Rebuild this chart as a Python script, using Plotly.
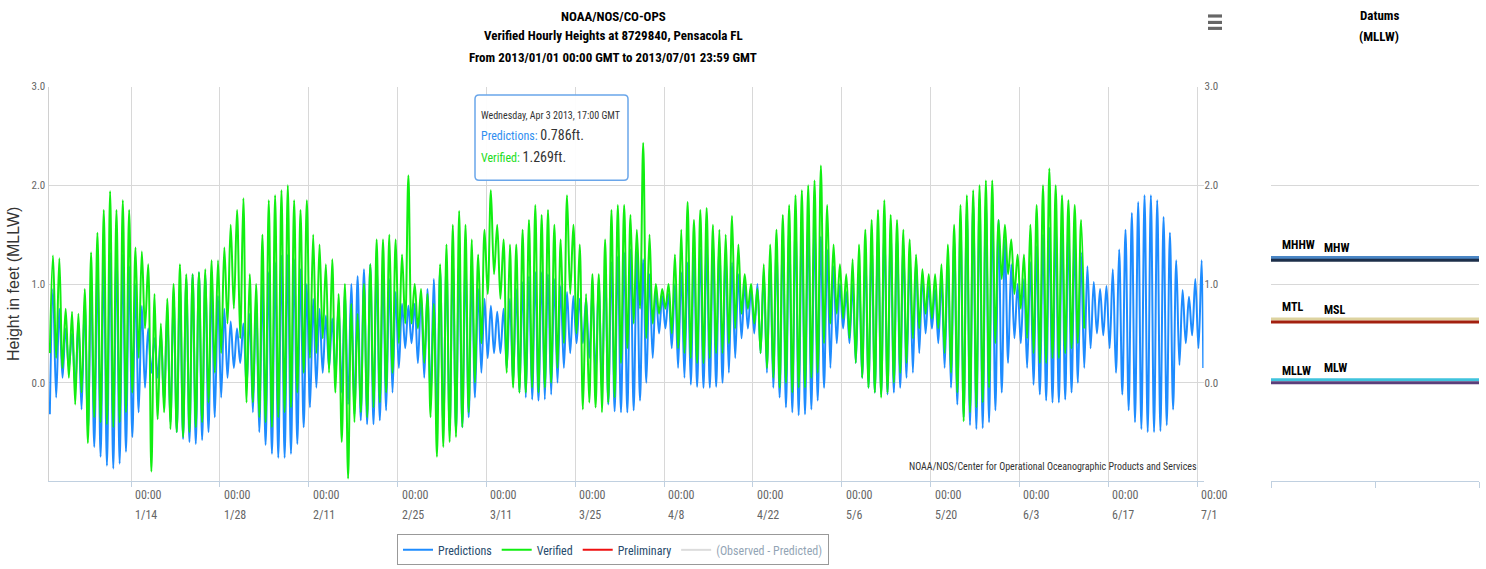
import pandas as pd
import plotly.graph_objects as go

# ---------------------------------------------------------------------------
# Daily tide extremes (feet above MLLW), Pensacola FL, 2013-01-01 .. 2013-07-01
# ---------------------------------------------------------------------------
START = pd.Timestamp("2013-01-01")
LOW_HOUR, HIGH_HOUR = 5, 17

pred_low = [
    -0.32, -0.15, 0.05, 0.15, -0.05, -0.27, -0.50, -0.65, -0.75, -0.84,
    -0.87, -0.82, -0.70, -0.55, -0.30, -0.05, 0.10, 0.05, -0.20, -0.40,
    -0.50, -0.57, -0.60, -0.62, -0.58, -0.50, -0.35, -0.15, 0.05, 0.15,
    0.20, -0.05, -0.30, -0.50, -0.63, -0.72, -0.76, -0.76, -0.72, -0.62,
    -0.45, -0.25, -0.05, 0.10, 0.15, 0.05, -0.10, -0.22, -0.32, -0.38,
    -0.42, -0.42, -0.38, -0.28, -0.10, 0.15, 0.35, 0.40, 0.20, 0.05,
    -0.20, -0.35, -0.45, -0.49, -0.50, -0.45, -0.35, -0.15, 0.10, 0.25,
    0.30, 0.30, 0.15, 0.00, -0.10, -0.15, -0.17, -0.18, -0.17, -0.12,
    0.00, 0.15, 0.30, 0.40, 0.40, 0.25, 0.05, -0.10, -0.22, -0.29,
    -0.30, -0.30, -0.28, -0.18, 0.00, 0.25, 0.50, 0.55, 0.35, 0.15,
    0.05, -0.02, -0.04, -0.05, -0.05, -0.04, 0.00, 0.10, 0.25, 0.45,
    0.55, 0.50, 0.30, 0.10, -0.05, -0.15, -0.25, -0.30, -0.33, -0.32,
    -0.27, -0.18, -0.05, 0.15, 0.40, 0.55, 0.40, 0.20, 0.05, -0.05,
    -0.10, -0.12, -0.12, -0.10, -0.05, 0.05, 0.10, 0.30, 0.50, 0.55,
    0.40, 0.15, -0.05, -0.22, -0.35, -0.43, -0.47, -0.46, -0.40, -0.28,
    -0.10, 0.20, 0.45, 0.40, 0.15, -0.02, -0.12, -0.18, -0.20, -0.20,
    -0.17, -0.10, 0.00, 0.15, 0.35, 0.50, 0.48, 0.35, 0.10, -0.12,
    -0.28, -0.40, -0.47, -0.50, -0.50, -0.49, -0.43, -0.27, 0.18, 0.40,
    0.48, 0.35,
]
pred_high = [
    0.95, 0.75, 0.55, 0.50, 0.61, 0.82, 1.02, 1.15, 1.25, 1.32,
    1.35, 1.30, 1.18, 1.00, 0.78, 0.55, 0.45, 0.50, 0.72, 0.88,
    0.98, 1.05, 1.10, 1.12, 1.09, 1.00, 0.88, 0.75, 0.62, 0.55,
    0.60, 0.70, 0.85, 1.00, 1.12, 1.22, 1.29, 1.30, 1.25, 1.15,
    1.00, 0.85, 0.75, 0.68, 0.65, 0.80, 0.93, 1.00, 1.08, 1.15,
    1.20, 1.20, 1.15, 1.05, 0.92, 0.80, 0.78, 0.80, 0.90, 0.95,
    1.05, 1.15, 1.22, 1.25, 1.25, 1.20, 1.10, 0.95, 0.85, 0.78,
    0.72, 0.75, 0.85, 0.95, 1.02, 1.08, 1.12, 1.12, 1.10, 1.05,
    0.98, 0.92, 0.88, 0.85, 0.85, 0.95, 1.05, 1.15, 1.22, 1.28,
    1.32, 1.35, 1.33, 1.25, 1.10, 0.95, 0.88, 0.90, 1.00, 1.12,
    1.22, 1.30, 1.35, 1.39, 1.40, 1.38, 1.32, 1.22, 1.10, 1.00,
    0.95, 1.00, 1.12, 1.25, 1.38, 1.48, 1.57, 1.62, 1.65, 1.64,
    1.58, 1.48, 1.35, 1.18, 1.00, 0.92, 1.00, 1.15, 1.28, 1.40,
    1.48, 1.52, 1.52, 1.48, 1.40, 1.30, 1.25, 1.10, 0.98, 0.95,
    1.05, 1.25, 1.45, 1.62, 1.75, 1.83, 1.87, 1.85, 1.78, 1.65,
    1.45, 1.20, 1.00, 1.05, 1.22, 1.38, 1.50, 1.57, 1.60, 1.60,
    1.55, 1.45, 1.32, 1.18, 1.02, 0.95, 0.98, 1.15, 1.35, 1.55,
    1.72, 1.83, 1.90, 1.90, 1.85, 1.68, 1.52, 1.24, 0.94, 0.87,
    1.05, 1.24,
]
pred_last = 0.15  # reading at 2013-07-01 23:00

ver_low = [
    0.30, 0.25, 0.15, 0.05, -0.22, -0.10, -0.61, -0.35, -0.40, -0.42,
    -0.45, -0.40, -0.30, -0.10, 0.25, 0.55, -0.90, -0.37, -0.30, -0.47,
    -0.50, -0.55, -0.50, -0.45, -0.40, -0.20, 0.10, 0.30, 0.60, 0.75,
    0.45, -0.20, -0.20, -0.35, -0.40, -0.45, -0.35, -0.30, -0.25, -0.10,
    0.10, 0.25, 0.30, 0.45, 0.10, -0.10, -0.60, -0.97, -0.40, -0.30,
    -0.35, -0.25, -0.20, -0.10, 0.10, 0.40, 0.60, 0.60, 0.55, 0.20,
    -0.35, -0.75, -0.65, -0.60, -0.55, -0.45, -0.30, 0.00, 0.40, 0.90,
    1.10, 0.85, 0.10, -0.05, -0.10, -0.10, -0.05, -0.10, -0.05, 0.00,
    0.15, 0.40, 0.90, 0.50, -0.27, -0.20, -0.25, -0.30, -0.20, -0.15,
    0.20, 0.35, 0.60, 0.75, 0.45, 0.60, 0.70, 0.75, 0.50, 0.35,
    0.30, 0.25, 0.20, 0.20, 0.25, 0.30, 0.30, 0.40, 0.55, 0.70,
    0.75, 0.60, 0.30, 0.15, 0.05, -0.05, 0.00, -0.10, -0.05, -0.05,
    0.05, 0.10, 0.40, 0.60, 0.70, 0.65, 0.45, 0.20, 0.05, -0.05,
    -0.10, -0.15, -0.10, 0.00, 0.10, 0.20, 0.45, 0.55, 0.70, 0.65,
    0.55, 0.30, 0.10, -0.10, -0.39, -0.30, -0.25, -0.20, -0.05, 0.40,
    1.05, 1.10, 0.90, 0.75, 0.45, 0.30, 0.20, 0.20, 0.25, 0.25,
    0.30, 0.35, 0.40, 0.55,
]
ver_high = [
    1.29, 1.26, 0.75, 0.72, 0.70, 0.95, 1.32, 1.52, 1.75, 1.94,
    1.75, 1.85, 1.75, 1.37, 1.33, 1.20, 0.90, 0.60, 0.85, 1.00,
    1.20, 1.10, 1.10, 1.12, 1.15, 1.24, 1.24, 1.37, 1.60, 1.75,
    1.87, 1.10, 1.00, 1.50, 1.85, 1.90, 1.95, 2.00, 1.85, 1.75,
    1.85, 1.50, 1.40, 1.20, 1.25, 0.90, 1.00, 0.80, 0.70, 1.00,
    1.20, 1.45, 1.45, 1.50, 1.45, 1.30, 2.10, 1.00, 0.95, 0.90,
    0.80, 1.20, 1.40, 1.60, 1.74, 1.60, 1.45, 1.30, 1.55, 1.95,
    1.60, 1.45, 1.40, 1.40, 1.55, 1.65, 1.80, 1.70, 1.75, 1.60,
    1.45, 1.90, 1.60, 1.40, 0.90, 1.10, 1.10, 1.45, 1.75, 1.80,
    1.80, 1.70, 1.55, 2.43, 1.50, 1.00, 0.95, 1.00, 1.30, 1.55,
    1.83, 1.65, 1.75, 1.77, 1.60, 1.55, 1.50, 1.69, 1.40, 1.10,
    1.00, 0.95, 1.20, 1.40, 1.55, 1.70, 1.80, 1.90, 1.95, 2.00,
    2.05, 2.20, 1.80, 1.40, 1.20, 1.10, 1.25, 1.40, 1.55, 1.65,
    1.75, 1.85, 1.70, 1.65, 1.55, 1.45, 1.30, 1.15, 1.10, 1.10,
    1.20, 1.40, 1.60, 1.80, 1.90, 1.95, 2.00, 2.05, 2.05, 1.65,
    1.60, 1.45, 1.30, 1.30, 1.60, 1.80, 2.00, 2.17, 2.00, 1.90,
    1.85, 1.80, 1.65,
]

# x-axis ticks (every two weeks)
tick_dates = ["2013-01-14", "2013-01-28", "2013-02-11", "2013-02-25",
              "2013-03-11", "2013-03-25", "2013-04-08", "2013-04-22",
              "2013-05-06", "2013-05-20", "2013-06-03", "2013-06-17",
              "2013-07-01"]
tick_text = ["1/14", "1/28", "2/11", "2/25", "3/11", "3/25", "4/8",
             "4/22", "5/6", "5/20", "6/3", "6/17", "7/1"]
y_ticks = [0, 1, 2, 3]
y_tick_text = ["0.0", "1.0", "2.0", "3.0"]

# Tidal datums relative to MLLW (feet)
datum_names = ["MHHW", "MHW", "MTL", "MSL", "MLW", "MLLW"]
datum_values = [1.27, 1.24, 0.645, 0.615, 0.03, 0.0]
datum_colors = ["#4a86c5", "#1d2f4a", "#ddd3a0", "#a3200f", "#3fc3dd", "#5b3f7a"]
datum_label_x = [0.09, 0.49, 0.09, 0.49, 0.49, 0.09]

# hover readout shown on the chart
tip_time = "Wednesday, Apr 3 2013, 17:00 GMT"
tip_pred = 0.786
tip_ver = 1.269

# ---------------------------------------------------------------------------
W, H = 1486, 569
NARROW = ("Roboto Condensed, Noto Sans Condensed, Open Sans Condensed, "
          "DejaVu Sans Condensed, Liberation Sans Narrow, Roboto, sans-serif")


def px(x):
    return x / W


def py(y):
    return 1 - y / H


def tide_series(lows, highs):
    xs, ys = [], []
    for d in range(max(len(lows), len(highs))):
        day = START + pd.Timedelta(days=d)
        if d < len(lows):
            xs.append(day + pd.Timedelta(hours=LOW_HOUR))
            ys.append(lows[d])
        if d < len(highs):
            xs.append(day + pd.Timedelta(hours=HIGH_HOUR))
            ys.append(highs[d])
    return xs, ys


def rounded_rect(x0, y0, x1, y1, r):
    """SVG path (paper coords) for a rounded rectangle given in pixels."""
    pts = [
        f"M {px(x0 + r)},{py(y0)}", f"L {px(x1 - r)},{py(y0)}",
        f"Q {px(x1)},{py(y0)} {px(x1)},{py(y0 + r)}", f"L {px(x1)},{py(y1 - r)}",
        f"Q {px(x1)},{py(y1)} {px(x1 - r)},{py(y1)}", f"L {px(x0 + r)},{py(y1)}",
        f"Q {px(x0)},{py(y1)} {px(x0)},{py(y1 - r)}", f"L {px(x0)},{py(y0 + r)}",
        f"Q {px(x0)},{py(y0)} {px(x0 + r)},{py(y0)}", "Z",
    ]
    return " ".join(pts)


px_x, px_y = tide_series(pred_low, pred_high)
px_x.append(pd.Timestamp("2013-07-01 23:00"))
px_y.append(pred_last)
vx, vy = tide_series(ver_low, ver_high)

fig = go.Figure()
fig.add_trace(go.Scatter(x=px_x, y=px_y, name="Predictions", mode="lines",
                         line=dict(color="#1e8cff", width=2, shape="spline", smoothing=1.0)))
fig.add_trace(go.Scatter(x=vx, y=vy, name="Verified", mode="lines",
                         line=dict(color="#11ee11", width=2, shape="spline", smoothing=1.0)))
fig.add_trace(go.Scatter(x=[None], y=[None], name="Preliminary", mode="lines",
                         line=dict(color="#ee1111", width=2)))
fig.add_trace(go.Scatter(x=[None], y=[None], name="(Observed - Predicted)", mode="lines",
                         line=dict(color="#bbbbbb", width=2), visible="legendonly"))
# right-hand axis labels
fig.add_trace(go.Scatter(x=[None], y=[None], yaxis="y2", showlegend=False, hoverinfo="skip"))

# datum panel
for name, val, col in zip(datum_names, datum_values, datum_colors):
    fig.add_trace(go.Scatter(x=[0, 2], y=[val, val], mode="lines", xaxis="x2", yaxis="y3",
                             line=dict(color=col, width=3), showlegend=False, name=name))

annotations = []
# title
for text, yc in [("NOAA/NOS/CO-OPS", 11),
                 ("Verified Hourly Heights at 8729840, Pensacola FL", 30),
                 ("From 2013/01/01 00:00 GMT to 2013/07/01 23:59 GMT", 52)]:
    annotations.append(dict(text=f"<b>{text}</b>", x=px(613), y=py(yc), xref="paper", yref="paper",
                            xanchor="center", yanchor="middle", showarrow=False,
                            font=dict(family=NARROW, size=13, color="#000")))
for text, yc in [("Datums", 10), ("(MLLW)", 31)]:
    annotations.append(dict(text=f"<b>{text}</b>", x=px(1379), y=py(yc), xref="paper", yref="paper",
                            xanchor="center", yanchor="middle", showarrow=False,
                            font=dict(family=NARROW, size=13, color="#000")))
# y-axis title
annotations.append(dict(text="Height in feet (MLLW)", x=px(13), y=py(281), xref="paper", yref="paper",
                        textangle=-90, showarrow=False, xanchor="center", yanchor="middle",
                        font=dict(family="Liberation Sans, Arial, sans-serif", size=16, color="#333")))
# x tick labels
for d, t in zip(tick_dates, tick_text):
    for text, yc in [("00:00", 494), (t, 514)]:
        annotations.append(dict(text=text, x=d, xref="x", y=py(yc), yref="paper", xanchor="left",
                                xshift=2, yanchor="middle", showarrow=False,
                                font=dict(family=NARROW, size=12, color="#666")))
# credits
annotations.append(dict(text="NOAA/NOS/Center for Operational Oceanographic Products and Services",
                        x=px(1199), y=py(465), xref="paper", yref="paper", xanchor="right",
                        yanchor="middle", showarrow=False,
                        font=dict(family=NARROW, size=10, color="#333")))
# tooltip lines
tip_lines = [
    (f"<span style='font-size:10px;color:#333'>{tip_time}</span>", 111),
    (f"<span style='color:#2f8ef0'>Predictions:</span> "
     f"<span style='font-size:14px;color:#333'>{tip_pred:.3f}ft.</span>", 130),
    (f"<span style='color:#22dd22'>Verified:</span> "
     f"<span style='font-size:14px;color:#333'>{tip_ver:.3f}ft.</span>", 153),
]
for text, yc in tip_lines:
    annotations.append(dict(text=text, x=px(479), y=py(yc), xref="paper", yref="paper",
                            xanchor="left", yanchor="middle", align="left", showarrow=False,
                            font=dict(family=NARROW, size=12, color="#333")))
# datum labels
for name, val, lx in zip(datum_names, datum_values, datum_label_x):
    annotations.append(dict(text=f"<b>{name}</b>", x=lx, y=val, xref="x2", yref="y3",
                            xanchor="left", yanchor="middle", yshift=12, showarrow=False,
                            font=dict(family=NARROW, size=12, color="#000")))

shapes = [dict(type="path", xref="paper", yref="paper", path=rounded_rect(475, 90, 628, 176, 4),
               fillcolor="rgba(255,255,255,0.95)", line=dict(color="#6aa6ea", width=1.5),
               layer="above")]
# menu icon
for y0 in (8.5, 15, 21):
    shapes.append(dict(type="rect", xref="paper", yref="paper", x0=px(1208), x1=px(1222),
                       y0=py(y0 + 3.2), y1=py(y0), fillcolor="#666", line=dict(width=0)))

fig.update_layout(
    width=W, height=H, margin=dict(l=0, r=0, t=0, b=0),
    paper_bgcolor="white", plot_bgcolor="white",
    showlegend=True,
    legend=dict(orientation="h", x=px(613), xanchor="center", y=py(534), yanchor="top",
                bordercolor="#999", borderwidth=1, bgcolor="white",
                font=dict(family=NARROW, size=12, color="#274b6d"), itemwidth=30),
    xaxis=dict(domain=[px(48.5), px(1203.5)], type="date",
               range=["2013-01-01 00:00", "2013-07-02 00:00"],
               tickvals=tick_dates, showticklabels=False, ticks="outside", ticklen=5,
               tickcolor="#c0d0e0", showgrid=True, gridcolor="#d8d8d8", gridwidth=1,
               showline=True, linecolor="#c0d0e0", linewidth=1, zeroline=False),
    yaxis=dict(domain=[py(480.5), py(81.5)], range=[-1, 3], tickvals=y_ticks, ticktext=y_tick_text,
               tickfont=dict(family=NARROW, size=11, color="#666"), gridcolor="#d8d8d8",
               showline=True, linecolor="#d0d0d0", zeroline=False, ticks=""),
    yaxis2=dict(overlaying="y", side="right", anchor="x", range=[-1, 3], tickvals=y_ticks,
                ticktext=y_tick_text, tickfont=dict(family=NARROW, size=11, color="#666"),
                showgrid=False, zeroline=False, showline=False),
    xaxis2=dict(domain=[px(1271), px(1479)], range=[0, 2], tickvals=[0, 1, 2],
                showticklabels=False, ticks="outside", ticklen=6, tickcolor="#c0d0e0",
                showgrid=False, showline=True, linecolor="#c0d0e0", zeroline=False, anchor="y3"),
    yaxis3=dict(domain=[py(480.5), py(81.5)], range=[-1, 3], tickvals=y_ticks,
                showticklabels=False, gridcolor="#d8d8d8", zeroline=False, anchor="x2"),
    annotations=annotations, shapes=shapes,
)

fig.write_html("out.html")
